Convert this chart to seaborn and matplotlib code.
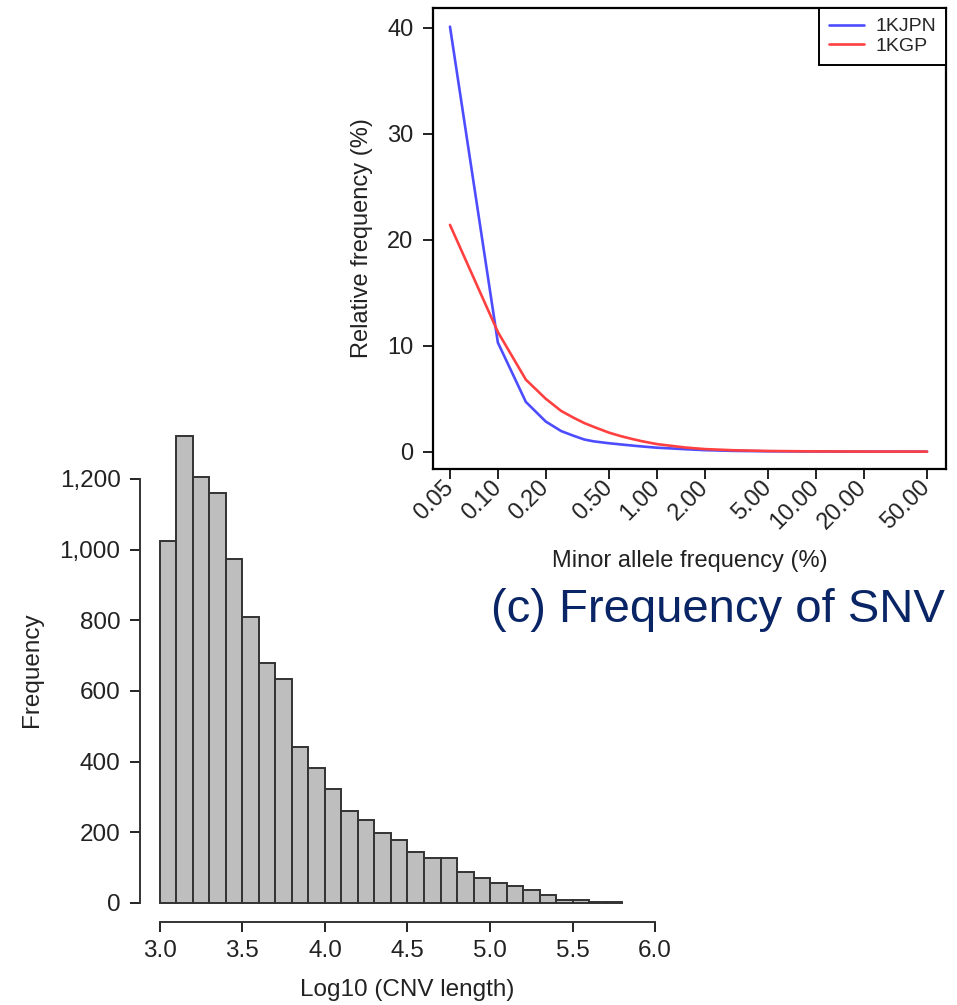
import numpy as np
import pandas as pd
import matplotlib
matplotlib.use("Agg")
import matplotlib.pyplot as plt
import seaborn as sns

# ------------------------------------------------------------------
# Datos: histograma de longitud de CNV (log10)
# ------------------------------------------------------------------
bin_edges = np.round(np.arange(3.0, 5.85, 0.1), 2)
cnv_counts = [1025, 1322, 1206, 1161, 973, 808, 678, 633, 442, 383,
              323, 260, 235, 197, 178, 145, 126, 126, 88, 70,
              57, 48, 37, 23, 8, 7, 2, 2]
bin_mids = bin_edges[:-1] + 0.05

# ------------------------------------------------------------------
# Datos: frecuencia relativa vs MAF
# ------------------------------------------------------------------
maf = [0.05, 0.10, 0.15, 0.20, 0.25, 0.30, 0.35, 0.40, 0.50, 0.60,
       0.70, 0.80, 1.00, 1.50, 2.00, 3.00, 5.00, 10.0, 20.0, 50.0]
freq_1kjpn = [40.1, 10.3, 4.7, 2.85, 1.95, 1.5, 1.15, 0.98, 0.8, 0.68,
              0.58, 0.5, 0.38, 0.24, 0.15, 0.08, 0.04, 0.02, 0.01, 0.005]
freq_1kgp = [21.4, 11.3, 6.8, 5.0, 3.85, 3.2, 2.7, 2.35, 1.8, 1.45,
             1.2, 1.0, 0.72, 0.4, 0.25, 0.14, 0.07, 0.03, 0.015, 0.01]
maf_ticks = [0.05, 0.1, 0.2, 0.5, 1, 2, 5, 10, 20, 50]

df_snv = pd.DataFrame({
    "maf": maf * 2,
    "freq": freq_1kjpn + freq_1kgp,
    "grupo": ["1KJPN"] * len(maf) + ["1KGP"] * len(maf),
})
df_cnv = pd.DataFrame({"log_len": bin_mids, "n": cnv_counts})

sns.set_style("ticks")
plt.rcParams["font.family"] = ["Liberation Sans", "DejaVu Sans"]

W, H = 957, 1005
fig = plt.figure(figsize=(W / 100, H / 100), dpi=100)

def px_axes(left, top, right, bottom):
    return fig.add_axes([left / W, 1 - bottom / H, (right - left) / W, (bottom - top) / H])

TXT = "#222222"

# ------------------------------------------------------------------
# Panel inferior izquierdo: histograma
# ------------------------------------------------------------------
ax2 = px_axes(140, 417, 675, 922)
ax2.patch.set_alpha(0)
sns.histplot(data=df_cnv, x="log_len", weights="n", bins=list(bin_edges),
             color="#bebebe", edgecolor="#333333", linewidth=1.4,
             alpha=1, ax=ax2)
ax2.set_xlim(2.88, 6.12)
ax2.set_ylim(-54, 1375)
ax2.set_xticks([3.0, 3.5, 4.0, 4.5, 5.0, 5.5, 6.0])
ax2.set_xticklabels(["3.0", "3.5", "4.0", "4.5", "5.0", "5.5", "6.0"])
ax2.set_yticks([0, 200, 400, 600, 800, 1000, 1200])
ax2.set_yticklabels(["0", "200", "400", "600", "800", "1,000", "1,200"])
ax2.spines["top"].set_visible(False)
ax2.spines["right"].set_visible(False)
ax2.spines["left"].set_bounds(0, 1200)
ax2.spines["bottom"].set_bounds(3.0, 6.0)
for side in ("left", "bottom"):
    ax2.spines[side].set_linewidth(1.4)
    ax2.spines[side].set_color("#333333")
ax2.tick_params(axis="both", direction="out", length=7, width=1.4,
                labelsize=17.5, colors=TXT)
ax2.tick_params(axis="y", pad=7)
ax2.tick_params(axis="x", pad=6)
ax2.set_xlabel("Log10 (CNV length)", fontsize=17.5, color=TXT, labelpad=12)
ax2.set_ylabel("Frequency", fontsize=17.5, color=TXT, labelpad=12)

# ------------------------------------------------------------------
# Panel superior derecho: lineas
# ------------------------------------------------------------------
ax1 = px_axes(433, 8, 946, 469)
ax1.set_zorder(3)
sns.lineplot(data=df_snv, x="maf", y="freq", hue="grupo",
             palette={"1KJPN": "#4d4dff", "1KGP": "#ff4040"},
             linewidth=1.9, ax=ax1)
ax1.set_xscale("log")
ax1.set_xlim(0.0391, 65.8)
ax1.set_ylim(-1.63, 41.86)
ax1.set_xticks(maf_ticks)
ax1.set_xticklabels([f"{t:.2f}" for t in maf_ticks])
ax1.minorticks_off()
ax1.set_yticks([0, 10, 20, 30, 40])
for s in ax1.spines.values():
    s.set_linewidth(1.6)
    s.set_color("black")
ax1.tick_params(axis="both", direction="out", length=7, width=1.4,
                labelsize=17, colors=TXT)
ax1.tick_params(axis="y", pad=7)
ax1.tick_params(axis="x", pad=4)
for lbl in ax1.get_xticklabels():
    lbl.set_rotation(45)
    lbl.set_ha("right")
    lbl.set_va("center")
    lbl.set_rotation_mode("anchor")
ax1.set_xlabel("Minor allele frequency (%)", fontsize=17, color=TXT, labelpad=12)
ax1.set_ylabel("Relative frequency (%)", fontsize=17, color=TXT, labelpad=10)
leg = ax1.legend(loc="upper right", frameon=True, fancybox=False, borderaxespad=0,
                 fontsize=14, handlelength=1.8, handletextpad=0.6,
                 labelspacing=0.1, borderpad=0.5)
leg.get_frame().set_edgecolor("black")
leg.get_frame().set_linewidth(1.4)
leg.get_frame().set_alpha(1)

# titulo del panel
fig.text(945 / W, 1 - 622 / H, "(c) Frequency of SNV", ha="right", va="baseline",
         fontsize=34, color="#0a2566")

fig.savefig("out.png", dpi=100)
